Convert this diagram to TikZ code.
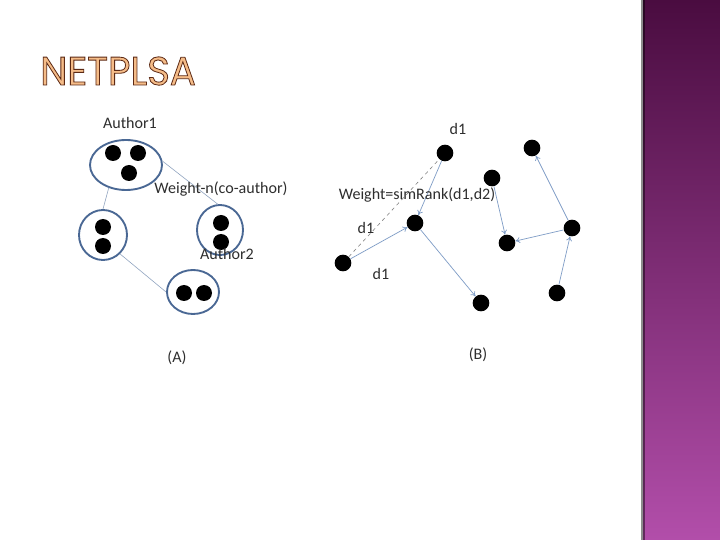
\documentclass[tikz,border=0pt]{standalone}
\usepackage{fontspec}
\setmainfont{Carlito}
\newfontfamily\titlefont{Poppins}
\usetikzlibrary{arrows.meta,shapes.geometric}
\definecolor{ringblue}{HTML}{4A6894}
\definecolor{edgegray}{HTML}{8FA3BF}
\definecolor{arrowblue}{HTML}{7E9CC6}
\definecolor{titlefill}{HTML}{F5BC88}
\definecolor{bartop}{HTML}{4A0C40}
\definecolor{barbot}{HTML}{B24EAA}
\definecolor{textgray}{HTML}{2E2E2E}
% outlined title letters
\newcommand{\outlinetext}[1]{\special{pdf:literal direct 2 Tr 0.7 w 0.36 0.16 0.08 RG}#1\special{pdf:literal direct 0 Tr}}

\begin{document}
\begin{tikzpicture}[x=0.03cm, y=-0.03cm,
  lbl/.style={font=\fontsize{13.7}{16}\selectfont, text=textgray, inner sep=1pt},
  ring/.style={ellipse, draw=ringblue, line width=1.6pt, inner sep=0},
  dot/.style={circle, fill=black, minimum size=0.5cm, inner sep=0},
  link/.style={edgegray, line width=0.5pt},
  arr/.style={-{To[length=4pt,width=5pt]}, arrowblue, line width=0.6pt}
]
  \useasboundingbox (0,0) rectangle (720,540);
  \fill[white] (0,0) rectangle (720,540);

  % side bar
  \shade[top color=bartop, bottom color=barbot] (643,0) rectangle (720,540);
  \fill[black, opacity=0.45] (641,0) rectangle (645,540);

  % title
  \node[anchor=west, inner sep=0, text=titlefill, xscale=0.97,
        font=\titlefont\fontsize{34}{36}\selectfont] (title) at (40,71) {\outlinetext{NETPLSA}};

  % (A) co-author graph
  \node[ring, minimum width=2.16cm, minimum height=1.5cm] (au1) at (126,165) {};
  \node[ring, minimum width=1.44cm, minimum height=1.5cm] (au2) at (103,235) {};
  \node[ring, minimum width=1.38cm, minimum height=1.5cm] (au3) at (220,230) {};
  \node[ring, minimum width=1.56cm, minimum height=1.32cm] (au4) at (193,292) {};

  \node[dot, minimum size=0.48cm] (au1a) at (113,153) {};
  \node[dot, minimum size=0.48cm] (au1b) at (138,153) {};
  \node[dot, minimum size=0.48cm] (au1c) at (129,173) {};
  \node[dot, minimum size=0.48cm] (au2a) at (103,227) {};
  \node[dot, minimum size=0.48cm] (au2b) at (103,246) {};
  \node[dot, minimum size=0.48cm] (au3a) at (221,223) {};
  \node[dot, minimum size=0.48cm] (au3b) at (221,242) {};
  \node[dot, minimum size=0.48cm] (au4a) at (184,293) {};
  \node[dot, minimum size=0.48cm] (au4b) at (204,293) {};

  \draw[link] (au1.6) -- (au3.95);
  \draw[link] (au1.233) -- (au2.90);
  \draw[link] (au2.-48) -- (au4.180);

  \node[lbl] (lauth1) at (130,123) {Author1};
  \node[lbl] (lweight) at (221,189) {Weight-n(co-author)};
  \node[lbl] (lauth2) at (227,254) {Author2};
  \node[lbl] (lA) at (177,358) {(A)};

  % (B) document graph
  \node[dot] (dA) at (445,153) {};
  \node[dot] (dB) at (415,223) {};
  \node[dot] (dC) at (343,263) {};
  \node[dot] (dD) at (481,303) {};
  \node[dot] (dE) at (492,178) {};
  \node[dot] (dF) at (507,243) {};
  \node[dot] (dG) at (532,148) {};
  \node[dot] (dH) at (572,228) {};
  \node[dot] (dI) at (557,293) {};

  \draw[gray, line width=0.5pt, dashed] (dC) -- (dA);
  \draw[arr] (dA) -- (dB);
  \draw[arr] (dC) -- (dB);
  \draw[arr] (dB) -- (dD);
  \draw[arr] (dE) -- (dF);
  \draw[arr] (dH) -- (dF);
  \draw[arr] (dH) -- (dG);
  \draw[arr] (dI) -- (dH);

  \node[lbl] (ld1top) at (458,129) {d1};
  \node[lbl] (lsim) at (417,195) {Weight=simRank(d1,d2)};
  \node[lbl] (ld1mid) at (366,228) {d1};
  \node[lbl] (ld1low) at (381,274) {d1};
  \node[lbl] (lB) at (478,355) {(B)};
\end{tikzpicture}
\end{document}
